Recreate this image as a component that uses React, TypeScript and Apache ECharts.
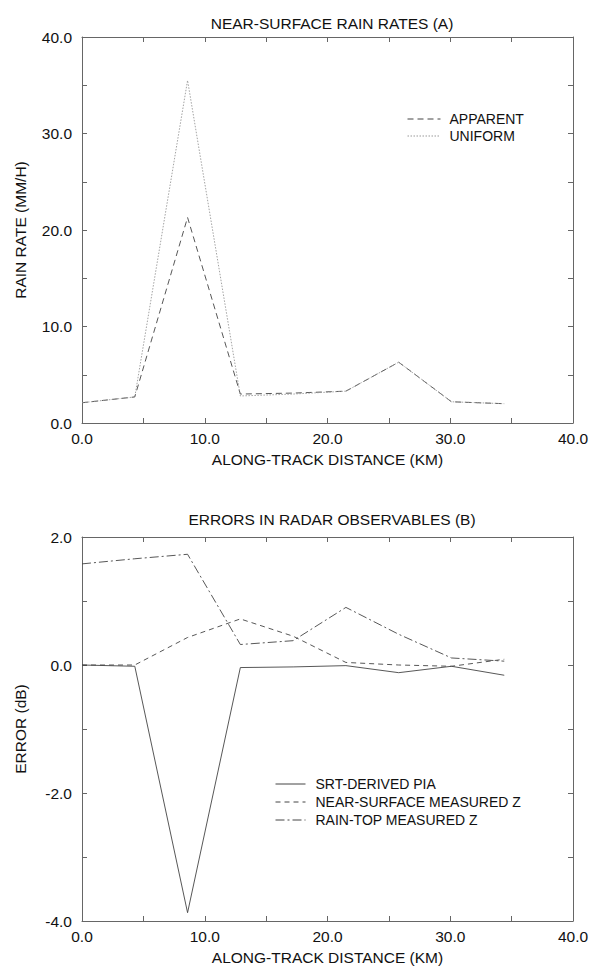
import React, { useEffect, useRef } from "react";
import * as echarts from "echarts";

const distanceKm = [0, 4.3, 8.6, 12.9, 17.2, 21.5, 25.8, 30.1, 34.4];
const apparentRate = [2.1, 2.7, 21.3, 3.0, 3.1, 3.3, 6.3, 2.2, 2.0];
const uniformRate = [2.1, 2.7, 35.5, 2.8, 3.0, 3.3, 6.3, 2.2, 2.0];
const srtPiaError = [0.0, -0.02, -3.87, -0.04, -0.03, -0.01, -0.12, -0.02, -0.16];
const nearSurfaceZError = [0.0, 0.0, 0.43, 0.72, 0.45, 0.04, 0.0, -0.02, 0.09];
const rainTopZError = [1.58, 1.66, 1.73, 0.32, 0.38, 0.9, 0.48, 0.11, 0.06];

const titleA = "NEAR-SURFACE RAIN RATES (A)";
const titleB = "ERRORS IN RADAR OBSERVABLES (B)";
const xName = "ALONG-TRACK DISTANCE (KM)";
const yNameA = "RAIN RATE (MM/H)";
const yNameB = "ERROR (dB)";
const legendA = ["APPARENT", "UNIFORM"];
const legendB = ["SRT-DERIVED PIA", "NEAR-SURFACE MEASURED Z", "RAIN-TOP MEASURED Z"];

const FONT = "'Liberation Sans', Arial, Helvetica, sans-serif";
const FS = 15.5;
const AXIS_COLOR = "#666";
const LINE_COLOR = "#444";
const HIDDEN = "rgba(0,0,0,0)";

const zip = (xs: number[], ys: number[]) => xs.map((x, i) => [x, ys[i]]);

function axisBase(show: boolean) {
  return {
    axisLine: { show: true, onZero: false, lineStyle: { color: AXIS_COLOR, width: 1 } },
    axisTick: { show: true, inside: true, length: 5, lineStyle: { color: AXIS_COLOR, width: 1 } },
    minorTick: { show: true, splitNumber: 2, length: 5, lineStyle: { color: AXIS_COLOR, width: 1 } },
    splitLine: { show: false },
    axisLabel: {
      show,
      color: "#111",
      fontFamily: FONT,
      fontSize: FS,
      formatter: (v: number) => v.toFixed(1),
    },
  };
}

const lineSeries = (name: string, axis: number, ys: number[], color: string, type: any) => ({
  name,
  type: "line",
  xAxisIndex: axis,
  yAxisIndex: axis,
  data: zip(distanceKm, ys),
  symbol: "none",
  itemStyle: { color: HIDDEN, borderWidth: 0 },
  lineStyle: { color, width: 0.9, type },
});

export default function App() {
  const ref = useRef<HTMLDivElement>(null);
  useEffect(() => {
    if (!ref.current) return;
    const chart = echarts.init(ref.current, undefined, { renderer: "svg" });
    const gridA = { left: 82, top: 37, width: 491, height: 386 };
    const gridB = { left: 82, top: 537, width: 491, height: 384 };
    const nameStyle = { color: "#111", fontFamily: FONT, fontSize: FS };
    const xMain = (gi: number) => ({
      type: "value",
      gridIndex: gi,
      min: 0,
      max: 40,
      interval: 10,
      position: "bottom",
      name: xName,
      nameLocation: "middle",
      nameGap: 28,
      nameTextStyle: nameStyle,
      ...axisBase(true),
      axisLabel: { ...axisBase(true).axisLabel, margin: 7 },
    });
    const xTop = (gi: number) => ({
      type: "value",
      gridIndex: gi,
      min: 0,
      max: 40,
      interval: 10,
      position: "top",
      ...axisBase(false),
    });
    const legendCommon = {
      orient: "vertical",
      itemHeight: 10,
      itemStyle: { color: HIDDEN, borderWidth: 0, opacity: 0 },
      lineStyle: { width: 1 },
    };
    const titleStyle = { fontFamily: FONT, fontSize: FS, fontWeight: "normal", color: "#111" };
    const option: any = {
      animation: false,
      backgroundColor: "#fff",
      title: [
        { text: titleA, left: 327, top: 10, textAlign: "center", textStyle: titleStyle },
        { text: titleB, left: 327, top: 506, textAlign: "center", textStyle: titleStyle },
      ],
      grid: [gridA, gridB],
      xAxis: [xMain(0), xTop(0), xMain(1), xTop(1)],
      yAxis: [
        {
          type: "value", gridIndex: 0, min: 0, max: 40, interval: 10, position: "left",
          name: yNameA, nameLocation: "middle", nameGap: 54, nameTextStyle: nameStyle,
          ...axisBase(true),
          axisLabel: { ...axisBase(true).axisLabel, margin: 10 },
        },
        { type: "value", gridIndex: 0, min: 0, max: 40, interval: 10, position: "right", ...axisBase(false) },
        {
          type: "value", gridIndex: 1, min: -4, max: 2, interval: 2, position: "left",
          name: yNameB, nameLocation: "middle", nameGap: 54, nameTextStyle: nameStyle,
          ...axisBase(true),
          axisLabel: { ...axisBase(true).axisLabel, margin: 10 },
        },
        { type: "value", gridIndex: 1, min: -4, max: 2, interval: 2, position: "right", ...axisBase(false) },
      ],
      legend: [
        {
          ...legendCommon,
          data: legendA, left: 402, top: 107,
          itemWidth: 33, itemGap: 3,
          textStyle: { fontFamily: FONT, fontSize: 14, color: "#111", padding: [0, 0, 0, 4] },
        },
        {
          ...legendCommon,
          data: legendB, left: 270, top: 772,
          itemWidth: 30, itemGap: 4,
          textStyle: { fontFamily: FONT, fontSize: 14, color: "#111", padding: [0, 0, 0, 5] },
        },
      ],
      series: [
        lineSeries(legendA[0], 0, apparentRate, LINE_COLOR, [6, 4]),
        lineSeries(legendA[1], 0, uniformRate, "#999", [1.5, 1.5]),
        lineSeries(legendB[0], 2, srtPiaError, LINE_COLOR, "solid"),
        lineSeries(legendB[1], 2, nearSurfaceZError, LINE_COLOR, [5, 4]),
        lineSeries(legendB[2], 2, rainTopZError, LINE_COLOR, [9, 3, 2, 3]),
      ],
    };
    chart.setOption(option);
    return () => chart.dispose();
  }, []);
  return <div ref={ref} style={{ position: "absolute", left: 0, top: 0, width: 605, height: 966 }} />;
}
